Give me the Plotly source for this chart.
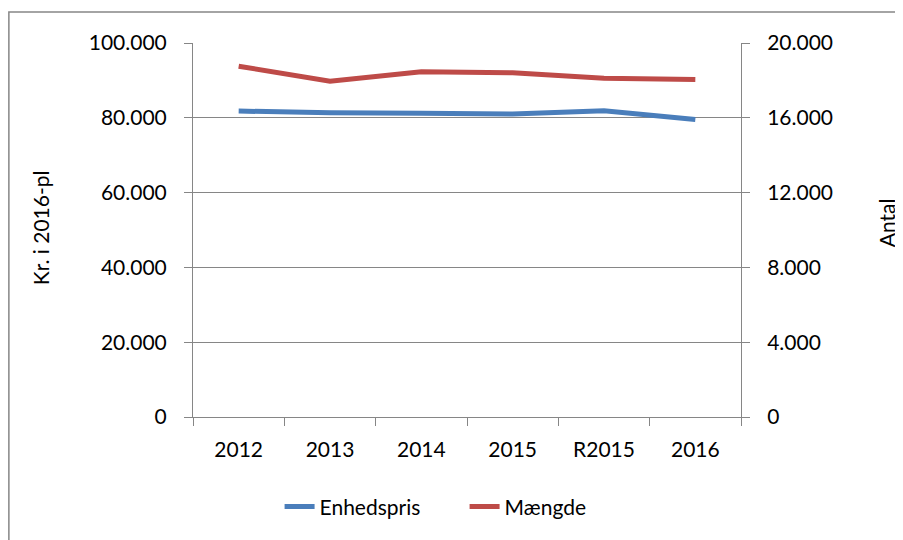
import plotly.graph_objects as go

years = ['2012', '2013', '2014', '2015', 'R2015', '2016']
enhedspris = [81800, 81350, 81250, 81000, 81900, 79550]
maengde = [18760, 17950, 18460, 18410, 18120, 18050]

left_ticks = [0, 20000, 40000, 60000, 80000, 100000]
right_ticks = [0, 4000, 8000, 12000, 16000, 20000]

grey = '#868686'
font = dict(family='Lato, Open Sans, sans-serif', size=21, color='#000000')

fig = go.Figure()
fig.add_trace(go.Scatter(
    x=years, y=enhedspris, name='Enhedspris', mode='lines',
    line=dict(color='#4A7EBB', width=5),
))
fig.add_trace(go.Scatter(
    x=years, y=maengde, name='Mængde', mode='lines', yaxis='y2',
    line=dict(color='#BE4B48', width=5),
))

# the page body adds 8px, so margins are 8px less on top/left
fig.update_layout(
    width=903, height=540,
    margin=dict(l=185, r=170, t=35, b=131),
    paper_bgcolor='white', plot_bgcolor='white',
    font=font,
    separators=',.',
    showlegend=True,
    legend=dict(orientation='h', x=0.158, xanchor='left', y=-0.24, yanchor='middle',
                font=font, traceorder='normal', entrywidth=140, entrywidthmode='pixels'),
    xaxis=dict(
        type='category', range=[-0.5, 5.5], tickson='boundaries',
        showline=True, linecolor=grey, linewidth=1,
        ticks='outside', ticklen=8, tickcolor=grey,
        showgrid=False, zeroline=False, ticklabelstandoff=14, automargin=False,
    ),
    yaxis=dict(
        range=[0, 100000], tickvals=left_ticks, tickformat=',d',
        showline=True, linecolor=grey, linewidth=1,
        ticks='outside', ticklen=8, tickcolor=grey,
        showgrid=True, gridcolor=grey, gridwidth=1, zeroline=False,
        ticklabelstandoff=13, automargin=False,
    ),
    yaxis2=dict(
        range=[0, 20000], tickvals=right_ticks, tickformat=',d',
        overlaying='y', side='right',
        showline=True, linecolor=grey, linewidth=1,
        ticks='outside', ticklen=8, tickcolor=grey,
        showgrid=False, zeroline=False, ticklabelstandoff=13, automargin=False,
    ),
    annotations=[
        dict(text='Kr. i 2016-pl', xref='paper', yref='paper', x=-0.279, y=0.505,
             xanchor='center', yanchor='middle',
             textangle=-90, showarrow=False, font=font),
        dict(text='Antal', xref='paper', yref='paper', x=1.266, y=0.52,
             xanchor='center', yanchor='middle',
             textangle=-90, showarrow=False, font=font),
    ],
    shapes=[dict(type='rect', xref='paper', yref='paper',
                 x0=-0.336, x1=1.5, y0=-0.5, y1=1.083,
                 line=dict(color=grey, width=1.5), layer='below')],
)

fig.write_html('out.html')
